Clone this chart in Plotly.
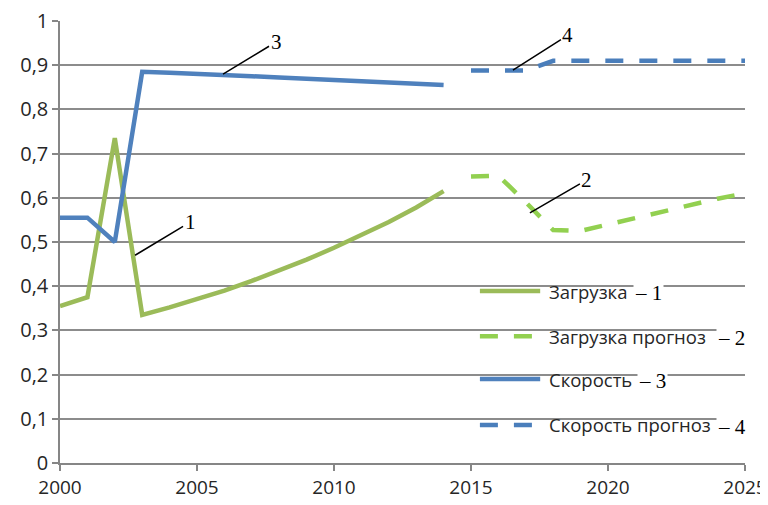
import plotly.graph_objects as go

# ---- data ----
years_hist = [2000, 2001, 2002, 2003, 2004, 2005, 2006, 2007, 2008, 2009, 2010, 2011, 2012, 2013, 2014]
load_hist = [0.355, 0.375, 0.735, 0.335, 0.352, 0.370, 0.390, 0.412, 0.435, 0.460, 0.487, 0.515, 0.545, 0.578, 0.615]
speed_hist = [0.555, 0.555, 0.500, 0.885, 0.883, 0.881, 0.878, 0.875, 0.872, 0.869, 0.866, 0.863, 0.860, 0.858, 0.855]

years_fc = [2015, 2016, 2017, 2018, 2019, 2020, 2021, 2022, 2023, 2024, 2025]
load_fc = [0.648, 0.650, 0.590, 0.527, 0.525, 0.540, 0.555, 0.570, 0.585, 0.598, 0.610]
speed_fc = [0.888, 0.888, 0.888, 0.910, 0.910, 0.910, 0.910, 0.910, 0.910, 0.910, 0.910]

series_names = ["Загрузка", "Загрузка прогноз", "Скорость", "Скорость прогноз"]
series_numbers = ["1", "2", "3", "4"]

x_ticks = [2000, 2005, 2010, 2015, 2020, 2025]
y_ticks = [0, 0.1, 0.2, 0.3, 0.4, 0.5, 0.6, 0.7, 0.8, 0.9, 1]
y_tick_labels = ["0", "0,1", "0,2", "0,3", "0,4", "0,5", "0,6", "0,7", "0,8", "0,9", "1"]

# ---- styles ----
GREEN = "#9BBB59"
GREEN_FC = "#92D050"
BLUE = "#4F81BD"
BLUE_FC = "#4A7EBB"
DASH = "18px,16px"
LW = 4.5
SANS = "Open Sans"
SERIF = "Liberation Serif"
TXT = "#262626"

fig = go.Figure()
styles = [(GREEN, "solid"), (GREEN_FC, DASH), (BLUE, "solid"), (BLUE_FC, DASH)]
data = [(years_hist, load_hist), (years_fc, load_fc), (years_hist, speed_hist), (years_fc, speed_fc)]
for i, ((xs, ys), (col, dash)) in enumerate(zip(data, styles)):
    fig.add_trace(go.Scatter(
        x=xs, y=ys, mode="lines", name=series_names[i], showlegend=False,
        line=dict(color=col, width=LW, dash=dash),
        hoverinfo="skip",
    ))

annotations = []
shapes = []

# leader-line labels (point in data coords, text offset in px)
leaders = [
    (2002.74, 0.470, 55, -33, series_numbers[0]),
    (2017.15, 0.566, 57, -33, series_numbers[1]),
    (2005.95, 0.880, 53, -32, series_numbers[2]),
    (2016.53, 0.889, 55, -35, series_numbers[3]),
]
for x, y, ax, ay, t in leaders:
    annotations.append(dict(
        x=x, y=y, xref="x", yref="y", ax=ax, ay=ay,
        text=t, showarrow=True, arrowhead=0, arrowwidth=1.5, arrowcolor="#000000",
        font=dict(family=SERIF, size=21, color="#000000"),
    ))

# legend drawn inside the plot area (paper coords)
leg_rows = [0.389, 0.287, 0.190, 0.086]
leg_sym_x0, leg_sym_x1, leg_txt_x = 0.613, 0.701, 0.711
mark_x = [0.836, 0.958, 0.842, 0.958]
for i, yy in enumerate(leg_rows):
    col, dash = styles[i]
    shapes.append(dict(
        type="line", xref="paper", yref="paper",
        x0=leg_sym_x0, x1=leg_sym_x1, y0=yy, y1=yy,
        line=dict(color=col, width=LW, dash=dash),
    ))
    annotations.append(dict(
        x=leg_txt_x, y=yy, xref="paper", yref="paper", xanchor="left", yanchor="middle",
        text=series_names[i], showarrow=False,
        font=dict(family=SANS, size=18.5, color=TXT),
    ))
    annotations.append(dict(
        x=mark_x[i], y=yy - 0.004, xref="paper", yref="paper", xanchor="left", yanchor="middle",
        text="– " + series_numbers[i], showarrow=False, bgcolor="#FFFFFF", borderpad=1,
        font=dict(family=SERIF, size=21, color="#000000"),
    ))

# page body has an 8px margin: compensate so the plot lands where the reference has it
fig.update_layout(
    width=760, height=497,
    margin=dict(l=52, r=23, t=13, b=42, autoexpand=False),
    paper_bgcolor="#FFFFFF", plot_bgcolor="#FFFFFF",
    font=dict(family=SANS, size=20, color=TXT),
    showlegend=False,
    annotations=annotations,
    shapes=shapes,
)
fig.update_xaxes(
    range=[2000, 2025], tickvals=x_ticks, showgrid=False, zeroline=False,
    showline=True, linecolor="#868686", linewidth=1.5, automargin=False,
    ticks="outside", ticklen=6, tickcolor="#868686", tickwidth=1.5,
    ticklabeloverflow="allow",
    tickfont=dict(family=SANS, size=19, color=TXT),
)
fig.update_yaxes(
    range=[0, 1], tickvals=y_ticks, ticktext=y_tick_labels, automargin=False,
    showgrid=True, gridcolor="#8C8C8C", gridwidth=1.5, zeroline=False,
    showline=True, linecolor="#868686", linewidth=1.5,
    ticks="outside", ticklen=6, tickcolor="#868686", tickwidth=1.5,
    ticklabeloverflow="allow",
    tickfont=dict(family=SANS, size=20, color=TXT),
)

fig.write_html("out.html")
